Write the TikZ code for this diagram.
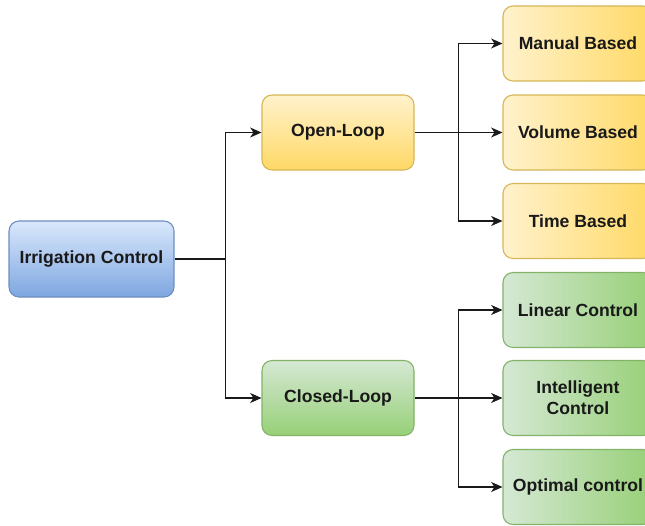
\documentclass[tikz,border=0pt]{standalone}
\usepackage{fontspec}
\setmainfont{Liberation Sans}
\usetikzlibrary{arrows.meta}
\definecolor{blueT}{HTML}{DAE8FC}
\definecolor{blueB}{HTML}{7EA6E0}
\definecolor{blueD}{HTML}{6C8EBF}
\definecolor{yelL}{HTML}{FFF2CC}
\definecolor{yelR}{HTML}{FFD966}
\definecolor{yelD}{HTML}{D6B656}
\definecolor{grnL}{HTML}{D5E8D4}
\definecolor{grnR}{HTML}{97D077}
\definecolor{grnD}{HTML}{82B366}
\tikzset{
  box/.style={rounded corners=7.5pt, line width=0.8pt, align=center,
    font=\fontsize{13.2}{16}\selectfont\bfseries, text=black!90},
  rootbox/.style={box, draw=blueD, top color=blueT, bottom color=blueB,
    minimum width=123.75pt, minimum height=57pt},
  midY/.style={box, draw=yelD, top color=yelL, bottom color=yelR,
    minimum width=114pt, minimum height=56.25pt},
  midG/.style={box, draw=grnD, top color=grnL, bottom color=grnR,
    minimum width=114pt, minimum height=56.25pt},
  leafY/.style={box, draw=yelD, left color=yelL, right color=yelR,
    minimum width=112.5pt, minimum height=56.25pt},
  leafG/.style={box, draw=grnD, left color=grnL, right color=grnR,
    minimum width=112.5pt, minimum height=56.25pt},
  conn/.style={line width=1pt, draw=black!90},
  arr/.style={conn, -{Stealth[length=8.5pt,width=7.5pt,inset=2.5pt]}}
}
\begin{document}
\begin{tikzpicture}[x=0.75pt,y=-0.75pt]
\useasboundingbox (0,0) rectangle (645,525);
\clip (0,0) rectangle (645,525);
\fill[white] (0,0) rectangle (645,525);
\node[rootbox] (irr) at (91.5,259) {Irrigation Control};
\node[midY] (open) at (338,132.5) {Open-Loop};
\node[midG] (closed) at (338,398) {Closed-Loop};
\node[leafY] (man) at (578,43.5) {Manual Based};
\node[leafY] (vol) at (578,132.5) {Volume Based};
\node[leafY] (time) at (578,221) {Time Based};
\node[leafG] (lin) at (578,310) {Linear Control};
\node[leafG] (int) at (578,398) {Intelligent\\Control};
\node[leafG] (opt) at (578,487) {Optimal control};
\path (irr.east) -- ++(51,0) coordinate (j1);
\path (open.east) -- ++(44,0) coordinate (j2);
\path (closed.east) -- ++(44,0) coordinate (j3);
\draw[conn] (irr.east) -- (j1);
\draw[arr] (j1) |- (open.west);
\draw[arr] (j1) |- (closed.west);
\draw[arr] (open.east) -- (vol.west);
\draw[arr] (j2) |- (man.west);
\draw[arr] (j2) |- (time.west);
\draw[arr] (closed.east) -- (int.west);
\draw[arr] (j3) |- (lin.west);
\draw[arr] (j3) |- (opt.west);
\end{tikzpicture}
\end{document}
